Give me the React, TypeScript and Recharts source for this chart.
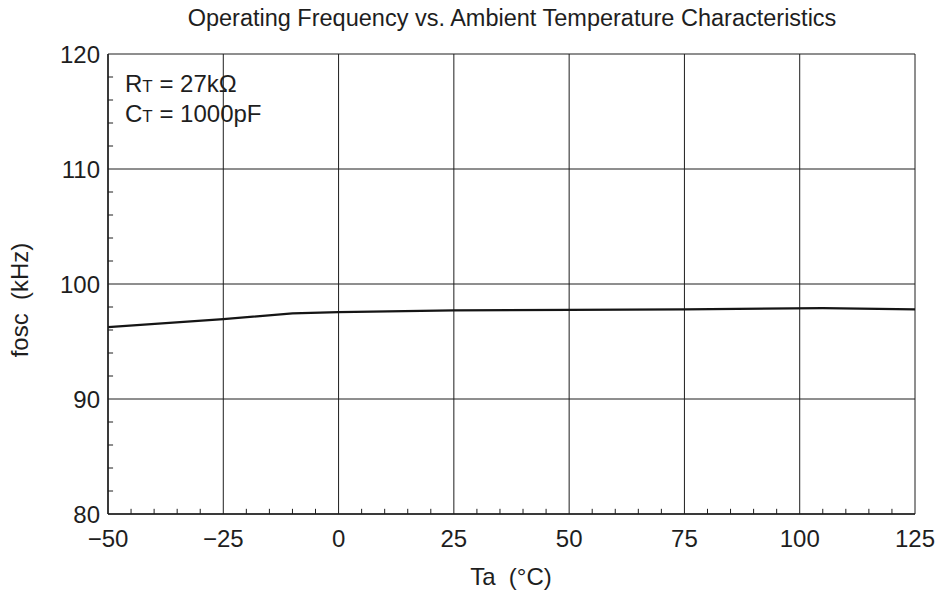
import React from "react";
import { LineChart, Line, XAxis, YAxis, CartesianGrid, ReferenceLine, Customized } from "recharts";

const temps = [-50, -25, -10, 0, 25, 50, 75, 105, 125];
const fosc = [96.25, 96.95, 97.45, 97.55, 97.7, 97.75, 97.8, 97.9, 97.8];

const xTicks = [-50, -25, 0, 25, 50, 75, 100, 125];
const yTicks = [80, 90, 100, 110, 120];
const xMinor = [-45, -40, -35, -30, -20, -15, -10, -5, 5, 10, 15, 20, 30, 35, 40, 45, 55, 60, 65, 70, 80, 85, 90, 95, 105, 110, 115, 120];
const yMinor = [82, 84, 86, 88, 92, 94, 96, 98, 102, 104, 106, 108, 112, 114, 116, 118];

const data = temps.map((t, i) => ({ t, f: fosc[i] }));

const font = "'Liberation Sans', Arial, sans-serif";
const ink = "#1e1e1e";

const fmt = (v: number) => (v < 0 ? `\u2212${Math.abs(v)}` : `${v}`);

const Texts = () => (
  <g fontFamily={font} fill={ink}>
    <text x={512} y={26} textAnchor="middle" fontSize={23.5}>
      Operating Frequency vs. Ambient Temperature Characteristics
    </text>
    <text x={125} y={92} fontSize={24}>
      R<tspan fontSize={17}>T</tspan> = 27kΩ
    </text>
    <text x={125} y={122} fontSize={24}>
      C<tspan fontSize={17}>T</tspan> = 1000pF
    </text>
    <text x={511} y={585} textAnchor="middle" fontSize={24} style={{ whiteSpace: "pre" }}>
      {"Ta  (°C)"}
    </text>
    <text
      x={28}
      y={300}
      textAnchor="middle"
      fontSize={24}
      transform="rotate(-90 28 300)"
      style={{ whiteSpace: "pre" }}
    >
      {"fosc  (kHz)"}
    </text>
  </g>
);

const App: React.FC = () => {
  return (
    <div style={{ position: "absolute", left: 0, top: 0, background: "#fff" }}>
      <LineChart width={940} height={591} data={data} margin={{ top: 54, right: 25, bottom: 0, left: 0 }}>
        <CartesianGrid stroke={ink} strokeWidth={1} strokeOpacity={1} />
        <XAxis
          type="number"
          dataKey="t"
          domain={[-50, 125]}
          ticks={xTicks}
          tickFormatter={fmt}
          height={77}
          tickSize={0}
          tickMargin={16}
          axisLine={{ stroke: ink, strokeWidth: 1.5 }}
          tick={{ fill: ink, fontSize: 24, fontFamily: font }}
          allowDataOverflow
        />
        <YAxis
          type="number"
          domain={[80, 120]}
          ticks={yTicks}
          width={108}
          tickSize={0}
          tickMargin={8}
          axisLine={{ stroke: ink, strokeWidth: 1.5 }}
          tick={{ fill: ink, fontSize: 24, fontFamily: font }}
          allowDataOverflow
        />
        {xMinor.map((t) => (
          <ReferenceLine
            key={`xm${t}`}
            segment={[{ x: t, y: 80 }, { x: t, y: 80.45 }]}
            stroke={ink}
            strokeWidth={1}
            ifOverflow="visible"
          />
        ))}
        {yMinor.map((v) => (
          <ReferenceLine
            key={`ym${v}`}
            segment={[{ x: -50, y: v }, { x: -48.9, y: v }]}
            stroke={ink}
            strokeWidth={1}
            ifOverflow="visible"
          />
        ))}
        <Line
          type="linear"
          dataKey="f"
          stroke="#151515"
          strokeWidth={2.2}
          dot={false}
          activeDot={false}
          isAnimationActive={false}
        />
        <Customized component={Texts} />
      </LineChart>
    </div>
  );
};

export default App;
